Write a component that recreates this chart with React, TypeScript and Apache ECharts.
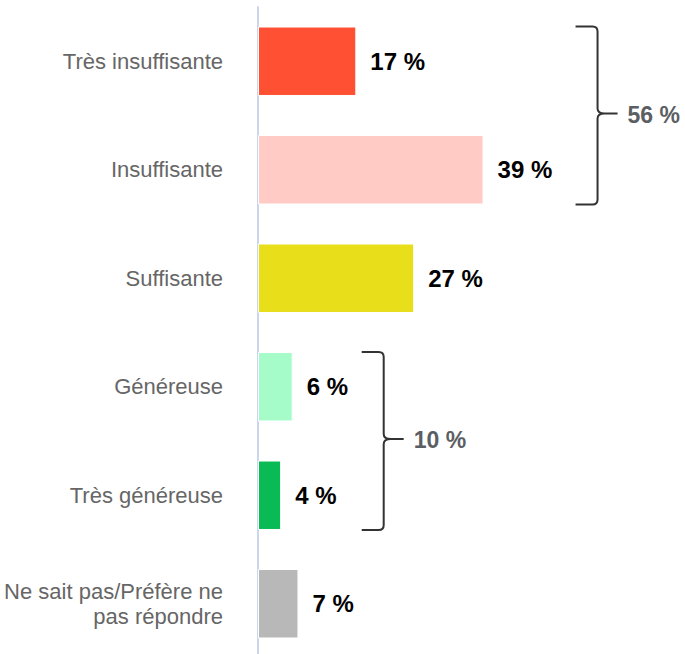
import React, { useEffect, useRef } from "react";
import * as echarts from "echarts";

const categories = [
  "Très insuffisante",
  "Insuffisante",
  "Suffisante",
  "Généreuse",
  "Très généreuse",
  "Ne sait pas/Préfère ne\npas répondre",
];
const values = [17, 39, 27, 6, 4, 7];
const barColors = ["#ff5033", "#ffcbc4", "#e8de1a", "#a6fcc9", "#0aba55", "#b8b8b8"];
const groupLabels = ["56 %", "10 %"];
const groupRanges = [
  [0, 1],
  [3, 4],
];

const FONT = "Liberation Sans, Arial, sans-serif";
const bracketOffsets = [92, 69];

export default function App() {
  const ref = useRef<HTMLDivElement>(null);
  useEffect(() => {
    if (!ref.current) return;
    const chart = echarts.init(ref.current, null, { renderer: "svg" });
    const option: any = {
      animation: false,
      grid: { left: 258, top: 7, width: 347, height: 651 },
      xAxis: {
        type: "value",
        min: 0,
        max: 60,
        show: false,
      },
      yAxis: {
        type: "category",
        inverse: true,
        data: categories,
        axisLine: { show: true, lineStyle: { color: "#ccd6eb", width: 2 } },
        axisTick: { show: false },
        axisLabel: {
          margin: 35,
          color: "#666666",
          fontSize: 22,
          fontFamily: FONT,
          lineHeight: 25,
          align: "right",
          padding: [4, 0, 0, 0],
        },
      },
      series: [
        {
          type: "bar",
          data: values.map((v, i) => ({ value: v, itemStyle: { color: barColors[i] } })),
          barCategoryGap: "36%",
          itemStyle: { borderColor: "#ffffff", borderWidth: 1 },
          label: {
            show: true,
            position: "right",
            distance: 14,
            formatter: "{c} %",
            color: "#000000",
            fontSize: 24,
            fontWeight: "bold",
            fontFamily: FONT,
            padding: [4, 0, 0, 0],
          },
        },
      ],
    };
    chart.setOption(option);

    const graphics: any[] = [];
    groupRanges.forEach((rg, gi) => {
      const [a, b] = rg;
      const cA = chart.convertToPixel({ gridIndex: 0 }, [0, a]) as number[];
      const cB = chart.convertToPixel({ gridIndex: 0 }, [0, b]) as number[];
      const band = (cB[1] - cA[1]) / (b - a || 1);
      const half = (band * 0.64) / 2;
      const yT = cA[1] - half;
      const yB = cB[1] + half;
      const ym = (yT + yB) / 2 - 2;
      let maxV = 0;
      for (let k = a; k <= b; k++) maxV = Math.max(maxV, values[k]);
      const xEnd = (chart.convertToPixel({ gridIndex: 0 }, [maxV, 0]) as number[])[0];
      const x0 = xEnd + bracketOffsets[gi];
      const xv = x0 + 22;
      const xt = xv + 20;
      const r = 5;
      const d =
        `M${x0} ${yT} L${xv - r} ${yT} Q${xv} ${yT} ${xv} ${yT + r} ` +
        `L${xv} ${ym - r} Q${xv} ${ym} ${xv + r + 2} ${ym} L${xt} ${ym} ` +
        `M${xv + r + 2} ${ym} Q${xv} ${ym} ${xv} ${ym + r} ` +
        `L${xv} ${yB - r} Q${xv} ${yB} ${xv - r} ${yB} L${x0} ${yB}`;
      const name = "bracket" + gi;
      echarts.graphic.registerShape(name, (echarts.graphic as any).extendPath(d, {}));
      graphics.push({
        type: name,
        x: 0,
        y: 0,
        style: { fill: null, stroke: "#333333", lineWidth: 2 },
      });
      graphics.push({
        type: "text",
        x: xt + 10,
        y: ym + 1,
        style: {
          text: groupLabels[gi],
          fill: "#5b5e63",
          font: "bold 23px " + FONT,
          textVerticalAlign: "middle",
          verticalAlign: "middle",
        },
      });
    });
    chart.setOption({ graphic: graphics });

    return () => chart.dispose();
  }, []);
  return (
    <div
      ref={ref}
      style={{ position: "fixed", left: 0, top: 0, width: 685, height: 662, background: "#ffffff" }}
    />
  );
}
